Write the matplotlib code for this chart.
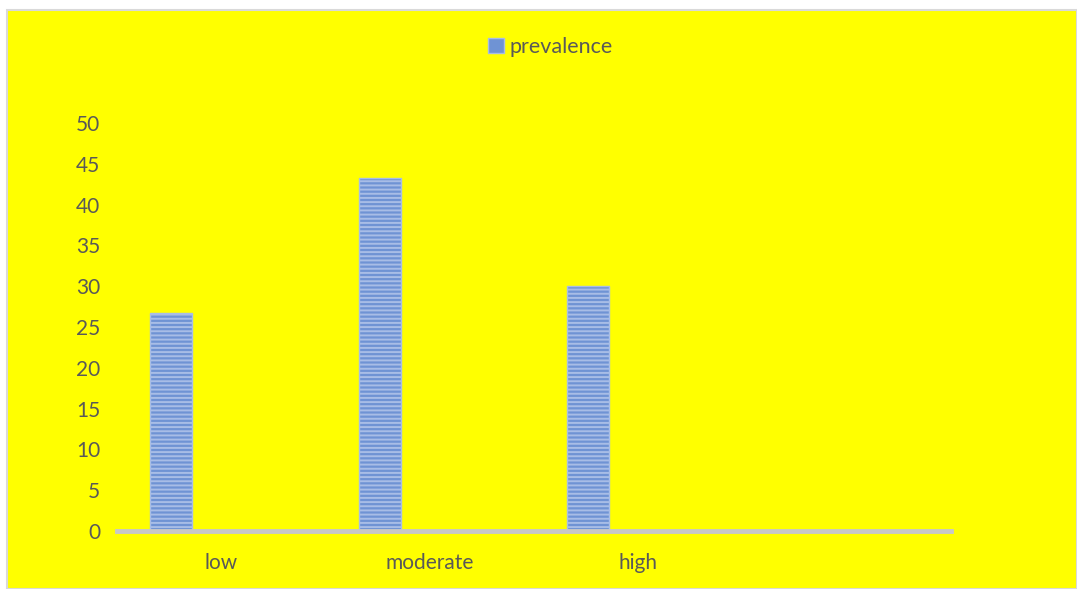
import matplotlib.pyplot as plt
import matplotlib.patches as mpatches
import numpy as np

# данные графика
categories = ["low", "moderate", "high", ""]
prevalence = [26.7, 43.3, 30.0, 0]
y_ticks = [0, 5, 10, 15, 20, 25, 30, 35, 40, 45, 50]

W, H = 1077, 589
plt.rcParams["font.family"] = ["Lato", "DejaVu Sans"]
plt.rcParams["hatch.color"] = "#d6e1f5"
plt.rcParams["hatch.linewidth"] = 1.4

fig = plt.figure(figsize=(W / 100, H / 100), dpi=100, facecolor="white")

# жёлтая область диаграммы с серой рамкой
bg = mpatches.Rectangle((7 / W, 0), 1 - 7 / W, 1 - 10 / H, transform=fig.transFigure,
                        facecolor="#ffff00", edgecolor="#d9d9d9", linewidth=1.5, zorder=-10)
fig.patches.append(bg)

ax = fig.add_axes([117 / W, 1 - 531 / H, (951 - 117) / W, (531 - 123) / H])
ax.set_facecolor("none")
ax.set_zorder(1)

x = np.arange(len(categories))
bars = ax.bar(x - 0.24, prevalence, width=0.2, color="#6f93d4", edgecolor="#a8bde6",
              linewidth=1, hatch="----", label="prevalence", zorder=2)
for b, v in zip(bars, prevalence):
    if v == 0:
        b.set_visible(False)

ax.set_xlim(-0.5, len(categories) - 0.5)
ax.set_ylim(0, 50)
ax.set_yticks(y_ticks)
ax.set_xticks(x)
ax.set_xticklabels(categories)
ax.tick_params(axis="y", length=0, pad=12, labelsize=15, labelcolor="#595959")
ax.tick_params(axis="x", length=0, pad=16, labelsize=15, labelcolor="#595959")

for side in ["top", "right", "left"]:
    ax.spines[side].set_visible(False)
ax.spines["bottom"].set_color("#c8c8c8")
ax.spines["bottom"].set_linewidth(3.5)
ax.spines["bottom"].set_zorder(3)

handle = mpatches.Patch(facecolor="#6f93d4", edgecolor="#a8bde6")
fig.legend([handle], ["prevalence"], loc="center", bbox_to_anchor=(550 / W, 1 - 47 / H),
           frameon=False, fontsize=15.5, labelcolor="#595959", handlelength=0.75,
           handleheight=0.75, handletextpad=0.25)

fig.savefig("out.png", dpi=100, facecolor="white")
